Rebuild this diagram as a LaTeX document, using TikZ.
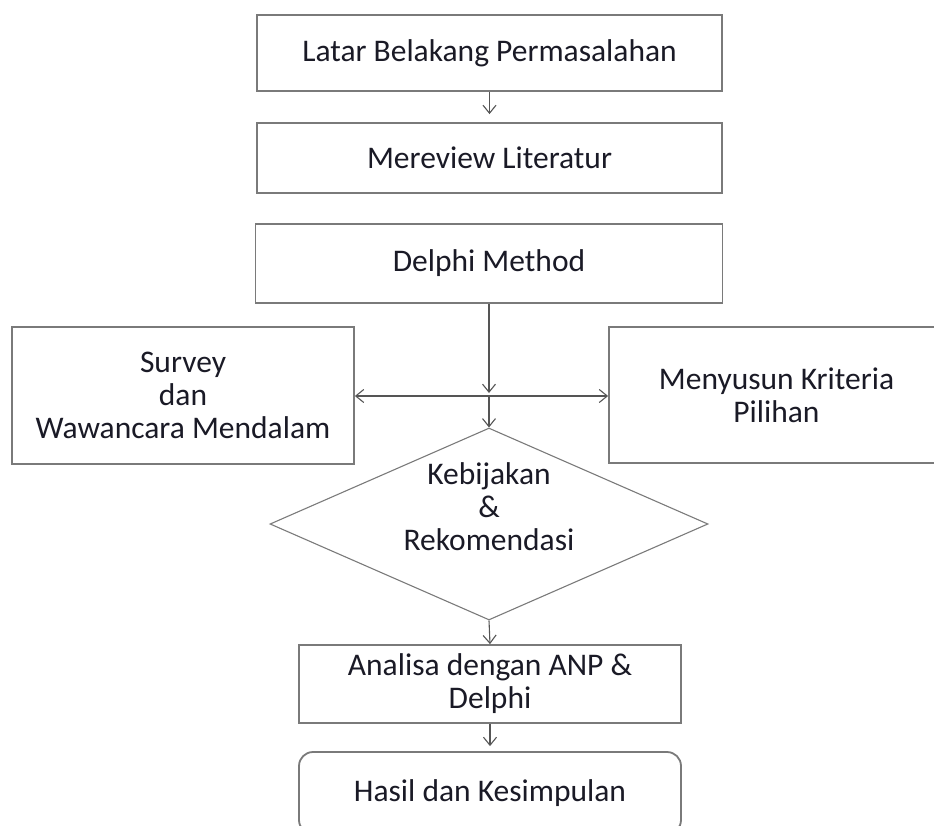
\documentclass[tikz,border=0pt]{standalone}
\usepackage{fontspec}
\setmainfont{Carlito}
\usetikzlibrary{arrows.meta,shapes.geometric}
\definecolor{boxgray}{HTML}{7A7A7A}
\definecolor{linegray}{HTML}{555555}
\definecolor{txt}{HTML}{1A1A26}
\begin{document}
\begin{tikzpicture}[x=1pt,y=-1pt,
  box/.style={draw=boxgray, line width=1.8pt, fill=white, inner sep=0pt,
    font=\fontsize{31.5}{33}\selectfont, text=txt, align=center},
  arr/.style={draw=linegray, line width=1.1pt, -{Straight Barb[length=8pt,width=13pt]}},
  dbl/.style={draw=linegray, line width=1.1pt, {Straight Barb[length=8pt,width=13pt]}-{Straight Barb[length=8pt,width=13pt]}}
]
\useasboundingbox (0,0) rectangle (934,826);
\clip (0,0) rectangle (934,826);
\node[box, minimum width=465pt, minimum height=76pt] (latar) at (489.5,53) {Latar Belakang Permasalahan};
\node[box, minimum width=465pt, minimum height=70pt] (review) at (489.5,158) {Mereview Literatur};
\node[box, minimum width=467pt, minimum height=79pt] (delphi) at (489,263.5) {Delphi Method};
\node[box, minimum width=342pt, minimum height=137pt] (survey) at (183,395.5) {Survey\\dan\\Wawancara Mendalam};
\node[box, minimum width=335pt, minimum height=136pt] (kriteria) at (776.5,395) {Menyusun Kriteria\\Pilihan};
\node[diamond, draw=boxgray, line width=1.1pt, minimum width=438pt, minimum height=192pt, inner sep=0pt] (dia) at (489,524) {};
\node[font=\fontsize{31.5}{33}\selectfont, text=txt, align=center] (diatext) at (489,507) {Kebijakan\\\&\\Rekomendasi};
\node[box, minimum width=382pt, minimum height=78pt] (analisa) at (490,684) {Analisa dengan ANP \&\\Delphi};
\node[box, rounded corners=14pt, minimum width=382pt, minimum height=82pt] (hasil) at (490,793) {Hasil dan Kesimpulan};
\coordinate (cross) at (489,396);
\draw[arr, shorten >=8pt] (latar.south) -- (review.north);
\draw[arr, shorten >=3pt] (delphi.south) -- (cross);
\draw[arr] (cross) -- (dia.north);
\draw[dbl] (survey.east |- cross) -- (kriteria.west |- cross);
\draw[arr] (dia.south) -- (analisa.north);
\draw[arr, shorten >=5pt] (analisa.south) -- (hasil.north);
\end{tikzpicture}
\end{document}
